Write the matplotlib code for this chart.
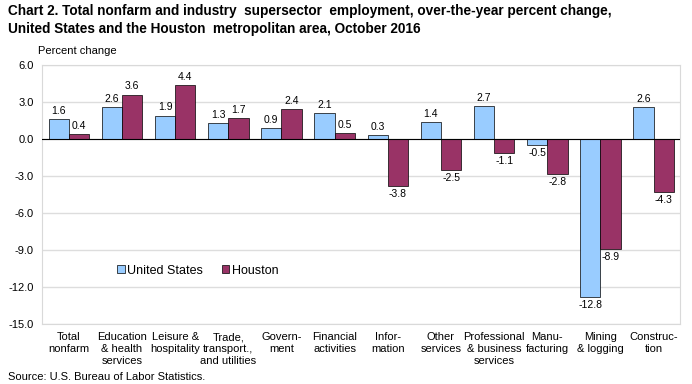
import numpy as np
import matplotlib.pyplot as plt

plt.rcParams['font.family'] = ['Liberation Sans', 'DejaVu Sans']

categories = ["Total\nnonfarm", "Education\n& health\nservices", "Leisure &\nhospitality",
              "Trade,\ntransport.,\nand utilities", "Govern-\nment", "Financial\nactivities",
              "Infor-\nmation", "Other\nservices", "Professional\n& business\nservices",
              "Manu-\nfacturing", "Mining\n& logging", "Construc-\ntion"]
us = [1.6, 2.6, 1.9, 1.3, 0.9, 2.1, 0.3, 1.4, 2.7, -0.5, -12.8, 2.6]
houston = [0.4, 3.6, 4.4, 1.7, 2.4, 0.5, -3.8, -2.5, -1.1, -2.8, -8.9, -4.3]
yticks = [6.0, 3.0, 0.0, -3.0, -6.0, -9.0, -12.0, -15.0]

fig = plt.figure(figsize=(6.92, 3.84), dpi=100)
ax = fig.add_axes([0.061, 0.156, 0.922, 0.675])

x = np.arange(len(categories))
w = 0.38
b1 = ax.bar(x - w/2, us, w, color='#99CCFF', edgecolor='black', linewidth=0.5, label='United States', zorder=3)
b2 = ax.bar(x + w/2, houston, w, color='#993366', edgecolor='black', linewidth=0.5, label='Houston', zorder=3)

for bars, vals in [(b1, us), (b2, houston)]:
    for r, v in zip(bars, vals):
        off = 0.25 if v >= 0 else -0.25
        ax.text(r.get_x() + r.get_width()/2, v + off, f"{v:.1f}", ha='center',
                va='bottom' if v >= 0 else 'top', fontsize=7.5)

ax.set_ylim(-15, 6)
ax.set_xlim(-0.5, len(categories) - 0.5)
ax.set_yticks(yticks)
ax.set_yticklabels([f"{t:.1f}" for t in yticks], fontsize=8)
ax.set_xticks(x)
ax.set_xticklabels(categories, fontsize=8, linespacing=1.25)
ax.tick_params(axis='x', length=0, pad=6)
ax.tick_params(axis='y', length=0, pad=6)
ax.grid(axis='y', color='#DDDDDD', linewidth=1, zorder=0)
ax.axhline(0, color='black', linewidth=0.8, zorder=4)
for s in ax.spines.values():
    s.set_color('#D9D9D9')

leg = ax.legend(loc='lower left', bbox_to_anchor=(0.1, 0.14), ncol=2, frameon=False,
                fontsize=9, handlelength=0.6, handleheight=0.6, columnspacing=1.5,
                handletextpad=0.2)

fig.text(0.012, 0.99, "Chart 2. Total nonfarm and industry  supersector  employment, over-the-year percent change,\n"
         "United States and the Houston  metropolitan area, October 2016",
         fontsize=9.8, fontweight='bold', va='top', ha='left', linespacing=1.4)
fig.text(0.055, 0.855, "Percent change", fontsize=8, va='bottom')
fig.text(0.012, 0.005, "Source: U.S. Bureau of Labor Statistics.", fontsize=8, va='bottom')

fig.savefig('out.png', dpi=100)
